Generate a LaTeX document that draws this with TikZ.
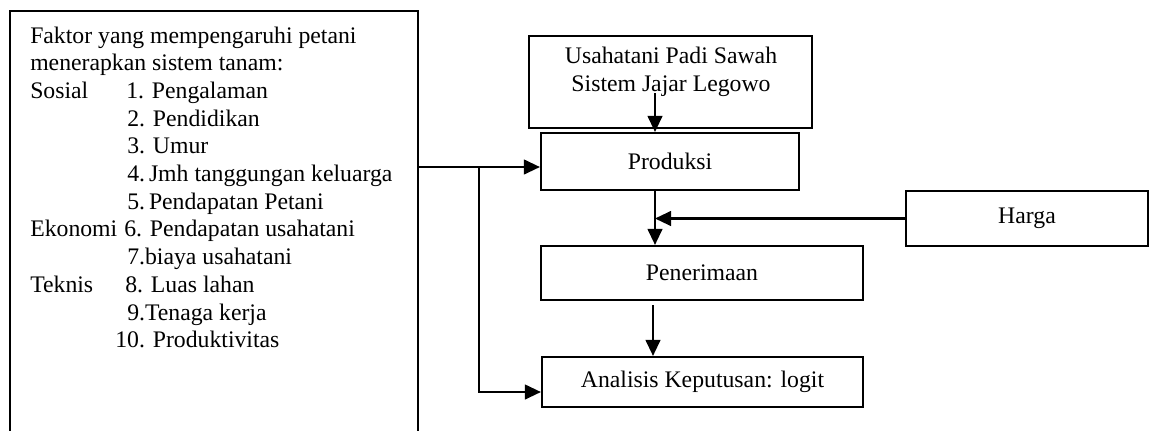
\documentclass[tikz,border=0pt]{standalone}
\usepackage{fontspec}
\setmainfont{Liberation Serif}
\usetikzlibrary{arrows.meta}
\begin{document}
\begin{tikzpicture}[x=0.75pt,y=-0.75pt,
  every node/.style={font=\fontsize{17.8}{20.8}\selectfont},
  box/.style={draw,line width=1.6pt,inner sep=0pt},
  txt/.style={anchor=base west,inner sep=0pt},
  conn/.style={line width=1.6pt,-{Triangle[length=12pt,width=11pt]}},
  plain/.style={line width=1.6pt}]
\useasboundingbox (0,0) rectangle (1149,430);
% left box (open at bottom)
\draw[plain] (10,431) -- (10,11) -- (418,11) -- (418,431);
\node[txt] (l1) at (30,43) {Faktor yang mempengaruhi petani};
\node[txt] (l2) at (30,70.7) {menerapkan sistem tanam:};
\node[txt] (s) at (30,98.4) {Sosial};
\node[txt] (i1) at (126,98.4) {1. Pengalaman};
\node[txt] (i2) at (127,126.1) {2. Pendidikan};
\node[txt] (i3) at (127,153.8) {3. Umur};
\node[txt] (i4) at (127,181.5) {4.\,Jmh tanggungan keluarga};
\node[txt] (i5) at (127,209.2) {5.\,Pendapatan Petani};
\node[txt] (e) at (30,236.9) {Ekonomi};
\node[txt] (i6) at (124,236.9) {6. Pendapatan usahatani};
\node[txt] (i7) at (127,264.6) {7.biaya usahatani};
\node[txt] (t) at (30,292.3) {Teknis};
\node[txt] (i8) at (125,292.3) {8. Luas lahan};
\node[txt] (i9) at (127,320) {9.Tenaga kerja};
\node[txt] (i10) at (115,347.7) {10. Produktivitas};
\coordinate (lout) at (418,167);
\coordinate (branch) at (479,167);
% right boxes
\node[box,minimum width=212.25pt,minimum height=69pt] (usaha) at (670.5,82) {};
\node[align=center,inner sep=0pt] (usahatxt) at (671,72) {Usahatani Padi Sawah\\Sistem Jajar Legowo};
\coordinate (usahaarr) at (655,93);
\node[box,minimum width=193.5pt,minimum height=42.75pt] (prod) at (670,161.5) {Produksi};
\node[box,minimum width=241.5pt,minimum height=40.5pt] (pen) at (702,273) {Penerimaan};
\node[box,minimum width=240.75pt,minimum height=37.5pt] (anal) at (702.5,382) {Analisis Keputusan: logit};
\node[box,minimum width=181.5pt,minimum height=41.25pt] (harga) at (1027,218.5) {Harga};
% connectors
\draw[conn] (usahaarr) -- (usahaarr |- prod.north);
\draw[conn] (prod.south -| 655,0) -- (pen.north -| 655,0);
\draw[conn] (harga.west) -- (655,218.5);
\draw[conn] (pen.south -| 653,0) ++(0,4) -- (anal.north -| 653,0);
\draw[conn] (lout) -- (prod.west |- lout);
\draw[conn] (branch) -- (479,392) -- (anal.west |- 0,392);
\end{tikzpicture}
\end{document}
